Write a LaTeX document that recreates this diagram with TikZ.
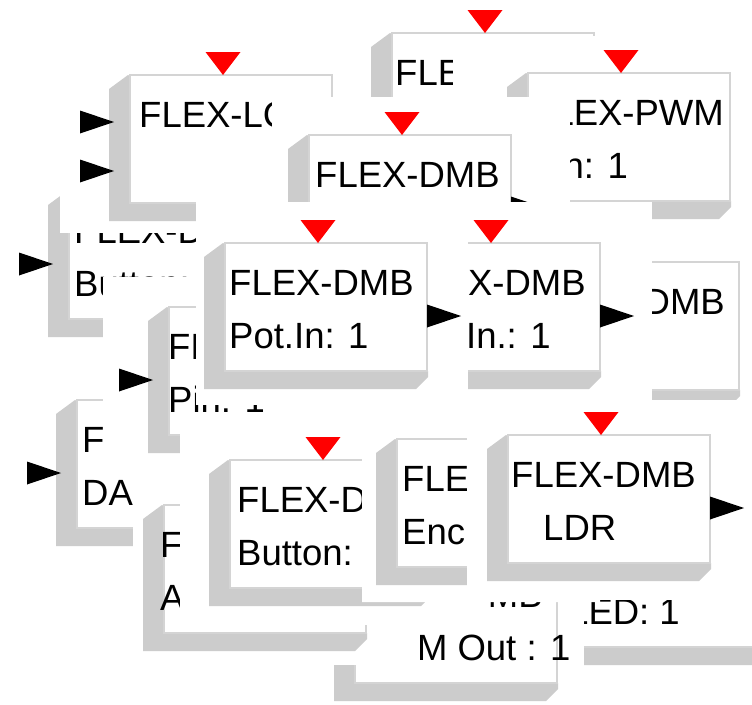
\documentclass[tikz,border=0pt]{standalone}
\usepackage{fontspec}
\setmainfont{Liberation Sans}
\definecolor{blkshadow}{HTML}{CCCCCC}
\definecolor{rim}{HTML}{D4D4D4}
\definecolor{evred}{HTML}{FF0000}
\tikzset{
  fxtext/.style={inner sep=0pt, anchor=base west, font=\fontsize{36.5}{40}\selectfont, text=black},
  evtri/.style={fill=evred},
  porttri/.style={fill=black}
}
% #1 name, #2 x0, #3 y0, #4 line1, #5 line2, #6 x-offset line1, #7 x-offset line2
\newcommand{\fxblock}[7]{%
  \fill[blkshadow] ({#2-2},#3) -- ({#2-21},{#3+14}) -- ({#2-21},{#3+146}) -- ({#2+191},{#3+146}) -- ({#2+203},{#3+134}) -- ({#2+203},{#3+128}) -- cycle;
  \filldraw[fill=white,draw=rim,line width=1.2pt] (#2,#3) rectangle ({#2+202},{#3+128});
  \node[fxtext] (#1a) at ({#2+#6},{#3+52}) {#4};
  \node[fxtext] (#1b) at ({#2+#7},{#3+105}) {#5};
}
% event input: x0, y0
\newcommand{\fxevent}[2]{\fill[evtri] ({#1+93-17.5},{#2-23}) -- ({#1+93+17.5},{#2-23}) -- ({#1+93},#2) -- cycle;}
% output: x0, y0
\newcommand{\fxout}[2]{\fill[porttri] ({#1+202},{#2+73-11.5}) -- ({#1+236},{#2+73}) -- ({#1+202},{#2+73+11.5}) -- cycle;}
% input: x0, cy
\newcommand{\fxin}[2]{\fill[porttri] ({#1-50},{#2-11.5}) -- ({#1-16},#2) -- ({#1-50},{#2+11.5}) -- cycle;}
% tile: white patch that covers what lies below, and clips what is drawn in it
\newcommand{\fxtile}[4]{\fill[white] (#1,#2) rectangle (#3,#4); \clip (#1,#2) rectangle (#3,#4);}

\begin{document}
\begin{tikzpicture}[x=1pt,y=-1pt]
\useasboundingbox (0,0) rectangle (752,704);
\fill[white] (0,0) rectangle (752,704);

% C: top centre
\begin{scope}\fxtile{360}{0}{620}{97}
  \fxblock{c}{392}{33}{FLEX-DMB}{}{3}{3}\fxevent{392}{33}
\end{scope}
% D: FLEX-PWM
\begin{scope}\fxtile{453}{36}{752}{225}
  \fxblock{d}{528}{73}{FLEX-PWM}{Pin: 1}{3}{3}\fxevent{528}{73}
\end{scope}
% B2: Button (left)
\begin{scope}\fxtile{0}{185}{200}{345}
  \fxblock{bb}{69}{191}{FLEX-DMB}{Button: 1}{5}{5}\fxin{69}{264}
\end{scope}
% B1: FLEX-LCD
\begin{scope}\fxtile{60}{30}{340}{233}
  \fxblock{lcd}{130}{75}{FLEX-LCD}{}{9}{9}\fxevent{130}{75}
  \fxin{130}{122}\fxin{130}{171}
\end{scope}
% B5: FLEX-DMB upper
\begin{scope}\fxtile{272}{97}{570}{202}
  \fxblock{up}{309}{135}{FLEX-DMB}{}{6}{6}\fxevent{309}{135}\fxout{309}{135}
\end{scope}
% B7: right middle
\begin{scope}\fxtile{600}{225}{752}{400}
  \fxblock{rm}{537}{262}{FLEX-DMB}{}{3}{3}
\end{scope}
% B6
\begin{scope}\fxtile{468}{202}{652}{400}
  \fxblock{mm}{398}{243}{FLEX-DMB}{Pot.In.: 1}{3}{3}\fxevent{398}{243}\fxout{398}{243}
\end{scope}
% B8: DAC
\begin{scope}\fxtile{0}{345}{300}{560}
  \fxblock{dac}{77}{400}{FLEX-DMB}{DAC: 1}{5}{5}\fxin{77}{473}
\end{scope}
% B3: Pin
\begin{scope}\fxtile{103}{277}{380}{460}
  \fxblock{pin}{169}{307}{FLEX-DMB}{Pin: 1}{-1}{-1}\fxin{169}{380}
\end{scope}
% B4: Pot.In
\begin{scope}\fxtile{196}{202}{468}{405}
  \fxblock{pot}{225}{243}{FLEX-DMB}{Pot.In: 1}{4}{4}\fxevent{225}{243}\fxout{225}{243}
\end{scope}
% B14: LED
\begin{scope}\fxtile{560}{575}{752}{704}
  \fxblock{led}{570}{519}{FLEX-DMB}{LED: 1}{-2}{-2}
\end{scope}
% B12: PWM Out
\begin{scope}\fxtile{330}{590}{584}{704}
  \fxblock{pwo}{355}{555}{FLEX-DMB}{PWM Out : 1}{3}{3}
\end{scope}
% B9: ADC
\begin{scope}\fxtile{133}{460}{418}{665}
  \fxblock{adc}{164}{505}{FLEX-DMB}{ADC: 1}{-4}{-4}
\end{scope}
% B10: Button lower
\begin{scope}\fxtile{180}{412}{430}{625}
  \fxblock{btn}{230}{460}{FLEX-DMB}{Button: 1}{7}{7}\fxevent{230}{460}
\end{scope}
% B11: Enc
\begin{scope}
  \fill[white] (362,405) rectangle (600,602) (425,600) rectangle (489,613);
  \clip (362,405) rectangle (600,602) (425,600) rectangle (489,613);
  \fxblock{enc}{397}{439}{FLEX-DMB}{Enc: 1}{5}{5}
\end{scope}
% B13: LDR
\begin{scope}\fxtile{467}{400}{752}{600}
  \fxblock{ldr}{508}{435}{FLEX-DMB}{LDR}{3}{35}\fxevent{508}{435}\fxout{508}{435}
\end{scope}
\end{tikzpicture}
\end{document}
